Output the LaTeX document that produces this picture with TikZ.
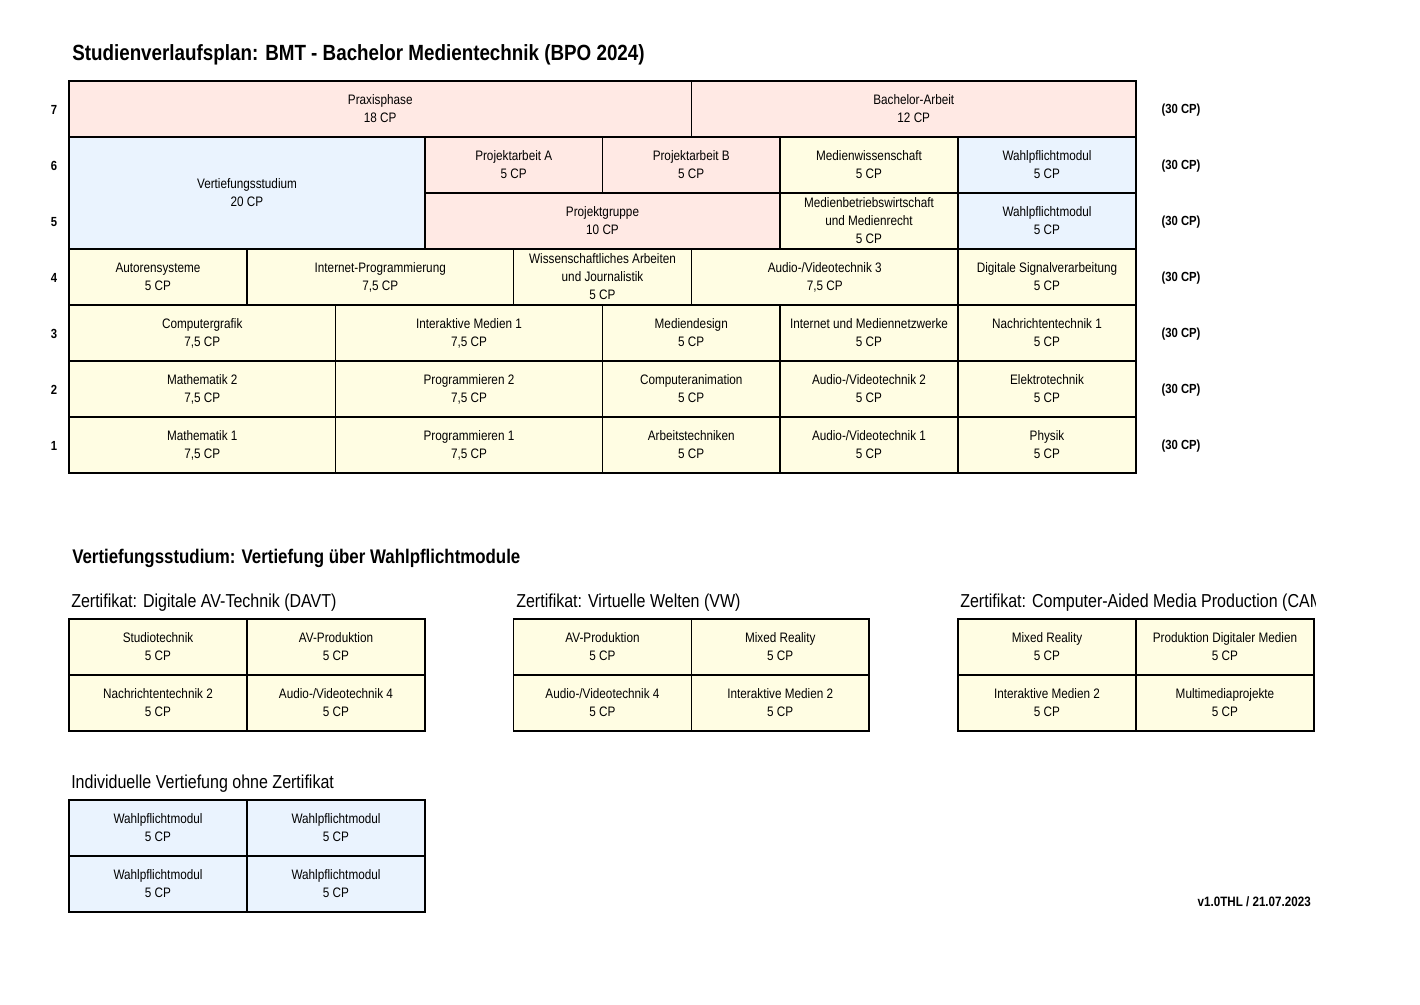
\documentclass[tikz,border=0pt]{standalone}
\usepackage{fontspec}
\setmainfont[FakeStretch=0.855]{Liberation Sans}
\definecolor{cellyellow}{HTML}{FFFDE3}
\definecolor{cellred}{HTML}{FFE9E4}
\definecolor{cellblue}{HTML}{EAF3FE}
\tikzset{
	cell/.style={draw,line width=1.3pt,inner sep=0pt,outer sep=0pt,anchor=north west,align=center,
		minimum height=42pt,font=\fontsize{10.3}{13.5}\selectfont},
	cols/.style={minimum width=#1*0.75pt},
	pflicht/.style={cell,fill=cellyellow},
	projekt/.style={cell,fill=cellred},
	wahl/.style={cell,fill=cellblue},
	sem/.style={font=\fontsize{9.9}{11}\bfseries\selectfont,inner sep=0pt},
	heading/.style={anchor=west,inner sep=0pt,font=\fontsize{16.5}{18}\bfseries\selectfont},
	vheading/.style={anchor=west,inner sep=0pt,font=\fontsize{14.8}{18}\bfseries\selectfont},
	subheading/.style={anchor=west,inner sep=0pt,font=\fontsize{14.05}{16}\selectfont}
}
\begin{document}
\begin{tikzpicture}[x=0.75pt,y=-0.75pt]
\useasboundingbox (0,0) rectangle (1420,1005);
\node [heading] (title) at (72,55) {Studienverlaufsplan: BMT - Bachelor Medientechnik (BPO 2024)};
% semester 7
\node [projekt,cols=622.5] (praxis) at (69,81) {Praxisphase\\18 CP};
\node [projekt,cols=444.5] (bachelor) at (691.5,81) {Bachelor-Arbeit\\12 CP};
% semester 6 and 5
\node [wahl,cols=356,minimum height=84pt] (vertiefung) at (69,137) {Vertiefungsstudium\\20 CP};
\node [projekt,cols=177.5] (proja) at (425,137) {Projektarbeit A\\5 CP};
\node [projekt,cols=177.5] (projb) at (602.5,137) {Projektarbeit B\\5 CP};
\node [pflicht,cols=178] (medwiss) at (780,137) {Medienwissenschaft\\5 CP};
\node [wahl,cols=178] (wahla) at (958,137) {Wahlpflichtmodul\\5 CP};
\node [projekt,cols=355] (projgr) at (425,193) {Projektgruppe\\10 CP};
\node [pflicht,cols=178] (medbw) at (780,193) {Medienbetriebswirtschaft\\und Medienrecht\\5 CP};
\node [wahl,cols=178] (wahlb) at (958,193) {Wahlpflichtmodul\\5 CP};
% semester 4
\node [pflicht,cols=178] (autoren) at (69,249) {Autorensysteme\\5 CP};
\node [pflicht,cols=266.5] (inetprog) at (247,249) {Internet-Programmierung\\7,5 CP};
\node [pflicht,cols=178] (wissarb) at (513.5,249) {Wissenschaftliches Arbeiten\\und Journalistik\\5 CP};
\node [pflicht,cols=266.5] (avt3) at (691.5,249) {Audio-/Videotechnik 3\\7,5 CP};
\node [pflicht,cols=178] (signal) at (958,249) {Digitale Signalverarbeitung\\5 CP};
% semester 3
\node [pflicht,cols=266.5] (grafik) at (69,305) {Computergrafik\\7,5 CP};
\node [pflicht,cols=267] (intmed1) at (335.5,305) {Interaktive Medien 1\\7,5 CP};
\node [pflicht,cols=177.5] (design) at (602.5,305) {Mediendesign\\5 CP};
\node [pflicht,cols=178] (netze) at (780,305) {Internet und Mediennetzwerke\\5 CP};
\node [pflicht,cols=178] (nachr1) at (958,305) {Nachrichtentechnik 1\\5 CP};
% semester 2
\node [pflicht,cols=266.5] (mathe2) at (69,361) {Mathematik 2\\7,5 CP};
\node [pflicht,cols=267] (prog2) at (335.5,361) {Programmieren 2\\7,5 CP};
\node [pflicht,cols=177.5] (anim) at (602.5,361) {Computeranimation\\5 CP};
\node [pflicht,cols=178] (avt2) at (780,361) {Audio-/Videotechnik 2\\5 CP};
\node [pflicht,cols=178] (etechnik) at (958,361) {Elektrotechnik\\5 CP};
% semester 1
\node [pflicht,cols=266.5] (mathe1) at (69,417) {Mathematik 1\\7,5 CP};
\node [pflicht,cols=267] (prog1) at (335.5,417) {Programmieren 1\\7,5 CP};
\node [pflicht,cols=177.5] (arbtech) at (602.5,417) {Arbeitstechniken\\5 CP};
\node [pflicht,cols=178] (avt1) at (780,417) {Audio-/Videotechnik 1\\5 CP};
\node [pflicht,cols=178] (physik) at (958,417) {Physik\\5 CP};
% semester numbers and sums
\foreach \s/\y in {7/110,6/166,5/222,4/278,3/334,2/390,1/446}{
	\node [sem] (sem\s) at (54,\y) {\s};
	\node [sem] (sum\s) at (1181,\y) {(30 CP)};
}
% Vertiefungen
\node [vheading] (vtitle) at (72,558) {Vertiefungsstudium: Vertiefung über Wahlpflichtmodule};
\node [subheading] (davt) at (71,603) {Zertifikat: Digitale AV-Technik (DAVT)};
\node [pflicht,cols=178] (da) at (69,619) {Studiotechnik\\5 CP};
\node [pflicht,cols=178] (db) at (247,619) {AV-Produktion\\5 CP};
\node [pflicht,cols=178] (dc) at (69,675) {Nachrichtentechnik 2\\5 CP};
\node [pflicht,cols=178] (dd) at (247,675) {Audio-/Videotechnik 4\\5 CP};
\node [subheading] (vw) at (516,603) {Zertifikat: Virtuelle Welten (VW)};
\node [pflicht,cols=178] (va) at (513.5,619) {AV-Produktion\\5 CP};
\node [pflicht,cols=177.5] (vb) at (691.5,619) {Mixed Reality\\5 CP};
\node [pflicht,cols=178] (vc) at (513.5,675) {Audio-/Videotechnik 4\\5 CP};
\node [pflicht,cols=177.5] (vd) at (691.5,675) {Interaktive Medien 2\\5 CP};
\begin{scope}
\clip (950,590) rectangle (1315,615);
\node [subheading] (camp) at (960,603) {Zertifikat: Computer-Aided Media Production (CAM};
\end{scope}
\node [pflicht,cols=178] (ca) at (958,619) {Mixed Reality\\5 CP};
\node [pflicht,cols=178] (cb) at (1136,619) {Produktion Digitaler Medien\\5 CP};
\node [pflicht,cols=178] (cc) at (958,675) {Interaktive Medien 2\\5 CP};
\node [pflicht,cols=178] (cd) at (1136,675) {Multimediaprojekte\\5 CP};
\node [subheading] (indiv) at (71,784) {Individuelle Vertiefung ohne Zertifikat};
\node [wahl,cols=178] (ia) at (69,800) {Wahlpflichtmodul\\5 CP};
\node [wahl,cols=178] (ib) at (247,800) {Wahlpflichtmodul\\5 CP};
\node [wahl,cols=178] (ic) at (69,856) {Wahlpflichtmodul\\5 CP};
\node [wahl,cols=178] (id) at (247,856) {Wahlpflichtmodul\\5 CP};
\node [sem,anchor=east,font=\fontsize{10.2}{11}\bfseries\selectfont] (stand) at (1311,902) {v1.0THL / 21.07.2023};
\end{tikzpicture}
\end{document}
